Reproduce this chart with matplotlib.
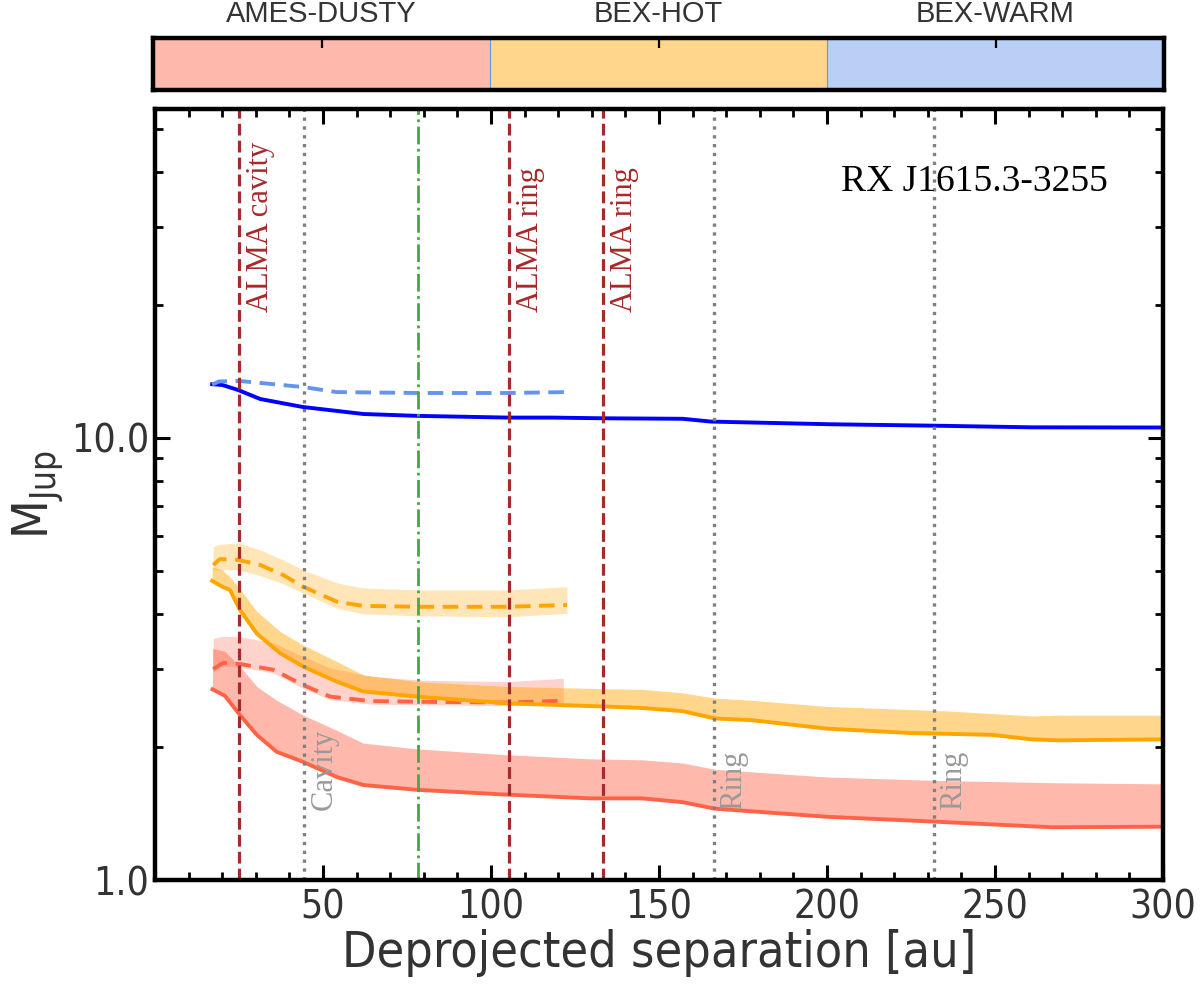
import numpy as np
import matplotlib
matplotlib.use("Agg")
import matplotlib.pyplot as plt
from matplotlib.ticker import FixedLocator, MultipleLocator, NullFormatter, LogLocator

plt.rcParams['font.family'] = ['DejaVu Sans']
plt.rcParams['font.stretch'] = 'condensed'
plt.rcParams['mathtext.default'] = 'regular'

TEXT_COLOR = "#333333"

# ---- data ----
# BEX-WARM (blue)
warm_x      = [17, 20, 24.7, 31.3, 44, 62, 78, 105, 118, 133, 157, 165.5, 201, 232, 261, 300]
warm_y      = [13.23, 13.18, 12.84, 12.25, 11.75, 11.33, 11.22, 11.12, 11.12, 11.08, 11.05,
               10.89, 10.74, 10.66, 10.57, 10.56]
warm_d_x    = [17, 19, 25, 44, 54, 78, 105, 122.5]
warm_d_y    = [13.2, 13.42, 13.46, 13.04, 12.7, 12.64, 12.64, 12.7]

# BEX-HOT (orange)
hot_x       = [17, 20, 22.3, 25.3, 30.3, 37.2, 44.1, 54.1, 62, 78, 105, 133, 145, 157, 166.6,
               177.4, 200, 225, 237, 249, 261, 269, 300]
hot_y       = [4.75, 4.61, 4.53, 4.08, 3.61, 3.26, 3.04, 2.81, 2.67, 2.60, 2.51, 2.47, 2.45,
               2.41, 2.32, 2.30, 2.20, 2.15, 2.14, 2.13, 2.08, 2.07, 2.08]
hot_up      = [5.11, 5.03, 4.85, 4.55, 4.05, 3.65, 3.40, 3.12, 2.91, 2.81, 2.74, 2.71, 2.70,
               2.65, 2.58, 2.55, 2.47, 2.43, 2.41, 2.38, 2.35, 2.36, 2.36]
hot_d_x     = [17.3, 19.3, 24.7, 31.3, 38.1, 44, 54.2, 61.9, 78, 105, 122.6]
hot_d_y     = [5.16, 5.32, 5.30, 5.16, 4.90, 4.61, 4.26, 4.17, 4.15, 4.15, 4.19]
hot_d_up    = [5.68, 5.75, 5.79, 5.58, 5.30, 5.03, 4.70, 4.58, 4.53, 4.53, 4.61]
hot_d_lo    = [5.03, 5.03, 5.03, 4.88, 4.68, 4.46, 4.12, 4.00, 3.96, 3.94, 4.01]

# AMES-DUSTY (red)
dusty_x     = [17.1, 20.8, 25.3, 30.3, 36.2, 44.1, 54.1, 62, 77.9, 104.7, 129.5, 144.9, 157,
               166.6, 200, 232.3, 267, 300]
dusty_y     = [2.70, 2.61, 2.36, 2.13, 1.95, 1.85, 1.71, 1.64, 1.60, 1.56, 1.53, 1.53, 1.50,
               1.45, 1.39, 1.355, 1.316, 1.32]
dusty_up    = [3.34, 3.29, 3.04, 2.74, 2.55, 2.36, 2.18, 2.04, 1.98, 1.92, 1.88, 1.87, 1.84,
               1.78, 1.71, 1.68, 1.66, 1.65]
dusty_d_x   = [17.3, 20.3, 25.3, 35.2, 44.1, 52.1, 64, 79.9, 104.7, 121.5]
dusty_d_y   = [3.00, 3.10, 3.08, 2.99, 2.76, 2.60, 2.54, 2.53, 2.52, 2.545]
dusty_d_up  = [3.52, 3.56, 3.55, 3.44, 3.20, 3.02, 2.89, 2.83, 2.81, 2.86]
dusty_d_lo  = [2.96, 3.05, 3.03, 2.94, 2.71, 2.56, 2.50, 2.49, 2.48, 2.50]

# disk features
alma_cavity = 25
alma_rings  = [105.3, 133.3]
cavity_pos  = 44.3
ring_pos    = [166.4, 231.8]
green_pos   = 78.3

models      = ["AMES-DUSTY", "BEX-HOT", "BEX-WARM"]
model_cols  = ["tomato", "orange", "cornflowerblue"]
tick_cols   = ["#9a4a3e", "#9a6a1c", "#3f5f98"]

fig = plt.figure(figsize=(12, 9.86), dpi=100)

# ---- model strip on top ----
cax = fig.add_axes([0.1275, 0.9087, 0.8425, 0.0527])
for i, c in enumerate(model_cols):
    cax.axvspan(i, i + 1, color=c, alpha=0.45, lw=0)
for i in (1, 2):
    cax.axvline(i, color="cornflowerblue", lw=0.8)
cax.set_xlim(0, 3)
cax.set_ylim(0, 1)
cax.set_yticks([])
cax.xaxis.tick_top()
cax.set_xticks([0.5, 1.5, 2.5])
cax.set_xticklabels(models, fontsize=21, color=TEXT_COLOR,
                    family=["Liberation Sans", "DejaVu Sans"], stretch="normal")
cax.tick_params(axis="x", direction="in", length=7, width=1.6, pad=7)
for tl, c in zip(cax.xaxis.get_major_ticks(), tick_cols):
    tl.tick2line.set_color(c)
for s in cax.spines.values():
    s.set_linewidth(3.2)

# ---- main panel ----
ax = fig.add_axes([0.1292, 0.1075, 0.8400, 0.7820])
ax.set_yscale("log")

ax.fill_between(dusty_d_x, dusty_d_lo, dusty_d_up, color="tomato", alpha=0.28, lw=0)
ax.fill_between(dusty_x, dusty_y, dusty_up, color="tomato", alpha=0.45, lw=0)
ax.fill_between(hot_d_x, hot_d_lo, hot_d_up, color="orange", alpha=0.28, lw=0)
ax.fill_between(hot_x, hot_y, hot_up, color="orange", alpha=0.45, lw=0)

ax.plot(dusty_x, dusty_y, color="tomato", lw=2.8)
ax.plot(dusty_d_x, dusty_d_y, color="tomato", lw=2.8, ls=(0, (4, 2.2)))
ax.plot(hot_x, hot_y, color="orange", lw=2.8)
ax.plot(hot_d_x, hot_d_y, color="orange", lw=2.8, ls=(0, (4, 2.2)))
ax.plot(warm_x, warm_y, color="blue", lw=2.8)
ax.plot(warm_d_x, warm_d_y, color="cornflowerblue", lw=2.8, ls=(0, (4, 2.2)))

ax.axvline(alma_cavity, color="brown", lw=2.3, ls="--")
for r in alma_rings:
    ax.axvline(r, color="brown", lw=2.3, ls="--")
ax.axvline(cavity_pos, color="gray", lw=2.4, ls=":")
for r in ring_pos:
    ax.axvline(r, color="gray", lw=2.4, ls=":")
ax.axvline(green_pos, color="#44a844", lw=2.0, ls="-.")

serif = ["Liberation Serif", "DejaVu Serif"]
ax.text(alma_cavity + 2.2, 19.3, "ALMA cavity", rotation=90, color="brown",
        fontsize=22, family=serif, stretch="normal", ha="left", va="bottom")
for r in alma_rings:
    ax.text(r + 2.2, 19.3, "ALMA ring", rotation=90, color="brown",
            fontsize=22, family=serif, stretch="normal", ha="left", va="bottom")
ax.text(cavity_pos + 1.8, 1.44, "Cavity", rotation=90, color="#999999",
        fontsize=22, family=serif, stretch="normal", ha="left", va="bottom")
for r in ring_pos:
    ax.text(r + 1.5, 1.44, "Ring", rotation=90, color="#999999",
            fontsize=22, family=serif, stretch="normal", ha="left", va="bottom")
ax.text(0.945, 0.905, "RX J1615.3-3255", transform=ax.transAxes, fontsize=27,
        family=serif, stretch="normal", ha="right", va="center", color="black")

ax.set_xlim(0, 300)
ax.set_ylim(1.0, 55.5)
ax.xaxis.set_major_locator(FixedLocator([50, 100, 150, 200, 250, 300]))
ax.xaxis.set_minor_locator(MultipleLocator(10))
ax.yaxis.set_major_locator(FixedLocator([1.0, 10.0]))
ax.set_yticklabels(["1.0", "10.0"])
ax.yaxis.set_minor_locator(LogLocator(base=10, subs=np.arange(2, 10)))
ax.yaxis.set_minor_formatter(NullFormatter())

ax.tick_params(which="both", direction="in", top=True, right=True, colors="black",
               labelcolor=TEXT_COLOR, labelsize=28)
ax.tick_params(which="major", length=11, width=2.2)
ax.tick_params(which="minor", length=6, width=2.0)
ax.tick_params(axis="x", pad=6)
ax.tick_params(axis="y", pad=4)
for s in ax.spines.values():
    s.set_linewidth(3.2)

ax.set_xlabel("Deprojected separation [au]", fontsize=36, color=TEXT_COLOR, labelpad=2)
ax.set_ylabel("M$_{Jup}$", fontsize=36, color=TEXT_COLOR, labelpad=4)

fig.savefig("out.png", dpi=100)
